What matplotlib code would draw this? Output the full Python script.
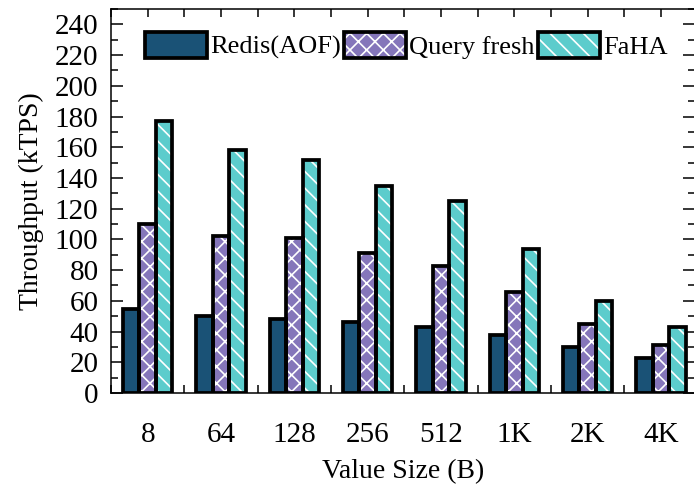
import numpy as np
import matplotlib
matplotlib.use("Agg")
import matplotlib.pyplot as plt
from matplotlib.patches import Patch
from matplotlib.legend_handler import HandlerTuple
from matplotlib.ticker import MultipleLocator

plt.rcParams['font.family'] = ['Liberation Serif', 'DejaVu Serif']
plt.rcParams['hatch.linewidth'] = 1.2

sizes = ["8", "64", "128", "256", "512", "1K", "2K", "4K"]
redis_aof = [55, 50, 48, 46, 43, 38, 30, 23]
query_fresh = [110, 102, 101, 91, 83, 66, 45, 31]
faha = [177, 158, 152, 135, 125, 94, 60, 43]

names = ["Redis(AOF)", "Query fresh", "FaHA"]
colors = ["#1a5276", "#8576ba", "#5ccccc"]
hatches = [None, "xx", "\\\\"]

fig = plt.figure(figsize=(6.94, 4.91), dpi=100)
ax = fig.add_axes([0.16, 0.1996, 0.842, 0.782])

x = np.arange(len(sizes))
w = 0.225
edge_lw = 2.7
handles = []
for i, (vals, c, h, name) in enumerate(zip([redis_aof, query_fresh, faha], colors, hatches, names)):
    pos = x + (i - 1) * w
    ax.bar(pos, vals, w, facecolor=c, edgecolor='white', hatch=h, linewidth=0, zorder=2)
    ax.bar(pos, vals, w, fill=False, edgecolor='black', linewidth=edge_lw, zorder=3)
    p1 = Patch(facecolor=c, edgecolor='white', hatch=h, linewidth=0)
    p2 = Patch(fill=False, edgecolor='black', linewidth=edge_lw)
    handles.append((p1, p2))

ax.set_xlim(-0.5, 7.47)
ax.set_ylim(0, 250)

ax.set_xticks(x)
ax.set_xticklabels(sizes)
ax.xaxis.set_minor_locator(MultipleLocator(0.5))
ax.yaxis.set_major_locator(MultipleLocator(20))
ax.yaxis.set_minor_locator(MultipleLocator(10))
ax.set_yticks(np.arange(0, 241, 20))

ax.tick_params(axis='both', which='both', direction='in', top=True, right=True,
               width=1.1, colors='black', zorder=4)
ax.tick_params(axis='y', which='major', length=8.5, labelsize=21, pad=9)
ax.tick_params(axis='y', which='minor', length=5)
ax.tick_params(axis='x', which='major', length=6, labelsize=21, pad=21)
ax.tick_params(axis='x', which='minor', length=6)

for s in ax.spines.values():
    s.set_linewidth(1.1)
ax.spines['right'].set_visible(False)

ax.set_xlabel("Value Size (B)", fontsize=20, labelpad=8)
ax.set_ylabel("Throughput (kTPS)", fontsize=20, labelpad=8)

ax.legend(handles, names, handler_map={tuple: HandlerTuple(ndivide=1)},
          ncol=3, loc='upper left', bbox_to_anchor=(0.058, 0.94),
          frameon=False, fontsize=19, borderpad=0, borderaxespad=0,
          handlelength=2.35, handleheight=1.14, handletextpad=0.12,
          columnspacing=0.12)

fig.savefig("out.png", dpi=100)
